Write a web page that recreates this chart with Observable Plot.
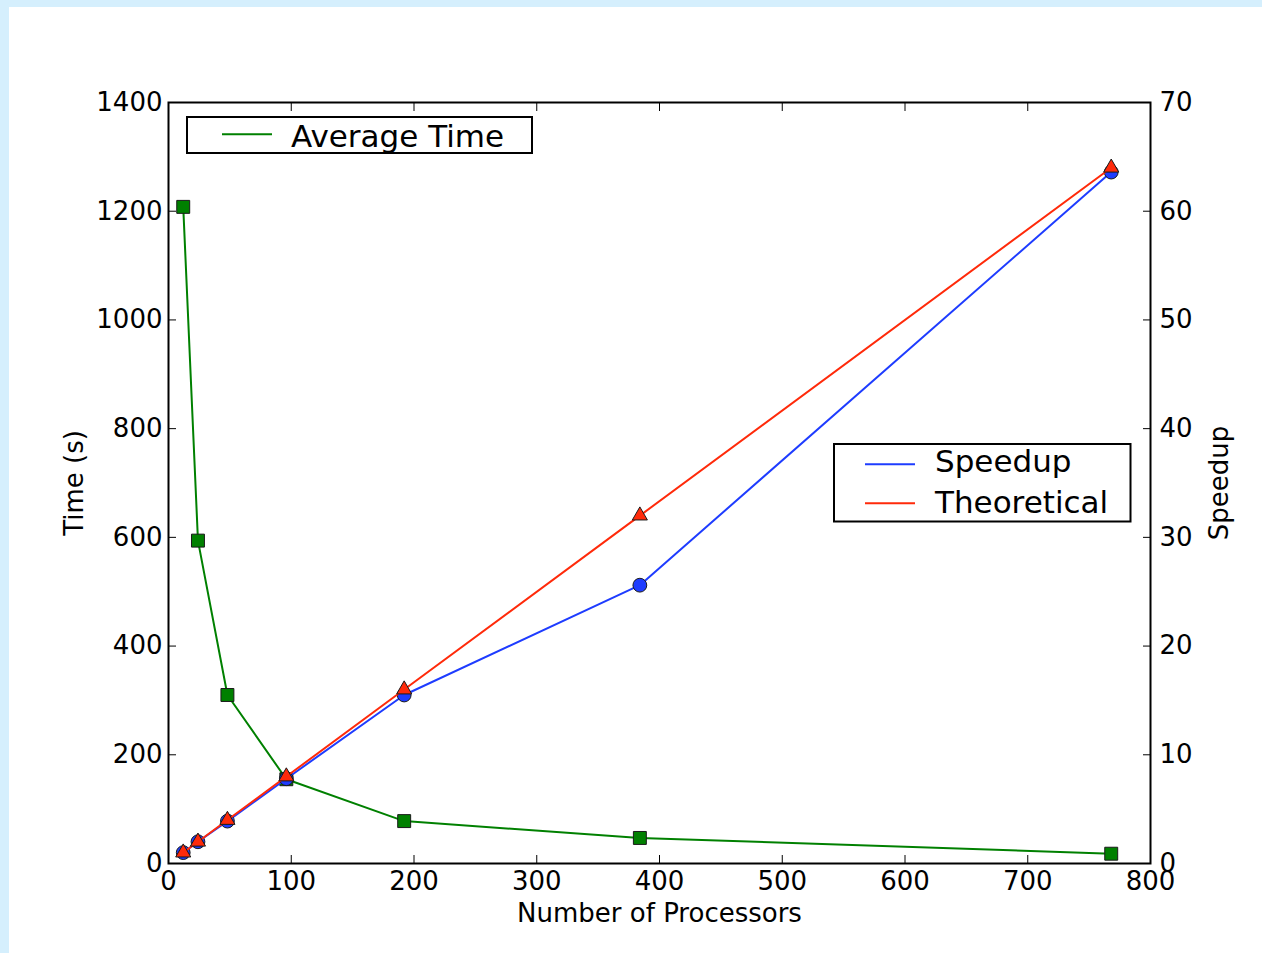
<!DOCTYPE html>
<html>
<head>
<meta charset="utf-8">
<script src="https://cdn.jsdelivr.net/npm/d3@7"></script>
<script src="https://cdn.jsdelivr.net/npm/@observablehq/plot@0.6"></script>
<style>
  html, body { margin: 0; padding: 0; }
  body { background: #d5effd; width: 1262px; height: 953px; overflow: hidden; position: relative; font-family: "DejaVu Sans", sans-serif; }
  #panel { position: absolute; left: 9px; top: 7px; width: 1253px; height: 946px; background: #ffffff; }
  #panel svg { position: absolute; left: 0; top: 0; }
</style>
</head>
<body>
<div id="panel"></div>
<script>
// ---- data ----
const processors  = [12, 24, 48, 96, 192, 384, 768];
const avgTime     = [1208, 594, 310, 155, 78, 47, 18];
const speedup     = [1, 2, 3.9, 7.8, 15.5, 25.6, 63.6];
const theoretical = [1, 2, 4, 8, 16, 32, 64];

const xTicks       = [0, 100, 200, 300, 400, 500, 600, 700, 800];
const timeTicks    = [0, 200, 400, 600, 800, 1000, 1200, 1400];
const speedupTicks = [0, 10, 20, 30, 40, 50, 60, 70];

const seriesNames = { time: "Average Time", speedup: "Speedup", theoretical: "Theoretical" };

// ---- styles ----
const GREEN = "#008000", BLUE = "#1e3cff", RED = "#ff2a0a";
const k = 1400 / 70; // right axis (speedup) mapped onto left axis (time) range

const rows = processors.map((p, i) => ({
  p, time: avgTime[i], speedup: speedup[i], theoretical: theoretical[i]
}));

const W = 1253, H = 946;
const chart = Plot.plot({
  width: W, height: H,
  marginLeft: 159, marginRight: 112, marginTop: 95, marginBottom: 90,
  style: { fontFamily: "DejaVu Sans", fontSize: "26px", background: "transparent", color: "black", overflow: "visible" },
  x: { domain: [0, 800] },
  y: { domain: [0, 1400] },
  marks: [
    Plot.axisX({ anchor: "bottom", ticks: xTicks, tickSize: -8, tickPadding: 16.5, tickFormat: d => String(d),
                 label: "Number of Processors", labelAnchor: "center", labelOffset: 58, labelArrow: "none" }),
    Plot.axisX({ anchor: "top", ticks: xTicks, tickSize: -8, tickFormat: () => "", label: null }),
    Plot.axisY({ anchor: "left", ticks: timeTicks, tickSize: -8, tickPadding: 14, tickFormat: d => String(d),
                 label: "Time (s)", labelAnchor: "center", labelOffset: 104, labelArrow: "none" }),
    Plot.axisY({ anchor: "right", ticks: speedupTicks.map(s => s * k), tickSize: -8, tickPadding: 17,
                 tickFormat: d => String(Math.round(d / k)),
                 label: "Speedup", labelAnchor: "center", labelOffset: 77, labelArrow: "none" }),
    Plot.frame({ stroke: "black", strokeWidth: 2 }),
    // Average time (left axis)
    Plot.line(rows, { x: "p", y: "time", stroke: GREEN, strokeWidth: 2 }),
    Plot.dot(rows, { x: "p", y: "time", symbol: "square", r: 7.3, fill: GREEN, stroke: "#1a1a1a", strokeWidth: 1 }),
    // Speedup (right axis)
    Plot.line(rows, { x: "p", y: d => d.speedup * k, stroke: BLUE, strokeWidth: 2 }),
    Plot.dot(rows, { x: "p", y: d => d.speedup * k, symbol: "circle", r: 6.9, fill: BLUE, stroke: "#1a1a1a", strokeWidth: 1 }),
    // Theoretical (right axis)
    Plot.line(rows, { x: "p", y: d => d.theoretical * k, stroke: RED, strokeWidth: 2 }),
    Plot.dot(rows, { x: "p", y: d => d.theoretical * k, symbol: "triangle", r: 5.6, fill: RED, stroke: "#1a1a1a", strokeWidth: 1 })
  ]
});
document.getElementById("panel").appendChild(chart);

// ---- legends (overlay) ----
const leg = d3.select("#panel").append("svg")
  .attr("width", W).attr("height", H)
  .style("pointer-events", "none")
  .style("font-family", "DejaVu Sans");

function legendBox(x, y, w, h, lineX, textX, items) {
  const g = leg.append("g");
  g.append("rect").attr("x", x).attr("y", y).attr("width", w).attr("height", h)
    .attr("fill", "white").attr("stroke", "black").attr("stroke-width", 2);
  items.forEach(it => {
    g.append("line").attr("x1", x + lineX).attr("x2", x + lineX + 50).attr("y1", it.ly).attr("y2", it.ly)
      .attr("stroke", it.color).attr("stroke-width", 2);
    g.append("text").attr("x", x + textX).attr("y", it.ty).attr("font-size", 31).attr("fill", "black").text(it.label);
  });
}
legendBox(178, 110, 345, 36, 35, 104, [{ label: seriesNames.time, color: GREEN, ly: 127.3, ty: 139.5 }]);
legendBox(825, 437, 296.5, 77.5, 31, 101, [
  { label: seriesNames.speedup, color: BLUE, ly: 457.3, ty: 465 },
  { label: seriesNames.theoretical, color: RED, ly: 496.3, ty: 506 }
]);
</script>
</body>
</html>
